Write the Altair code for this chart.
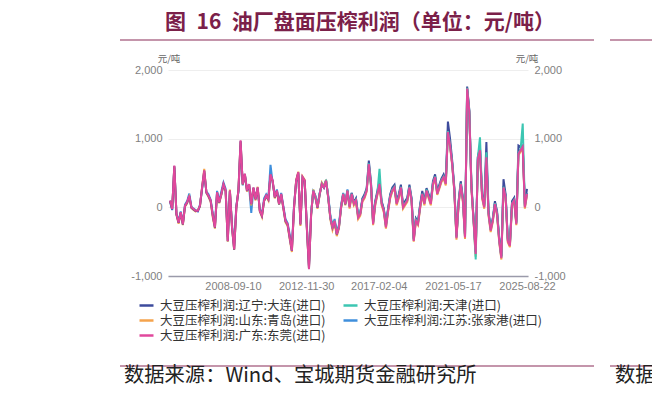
import altair as alt
import pandas as pd

# ---------------- data ----------------
dates = pd.date_range(end="2025-08-22", periods=168, freq="45D").strftime("%Y-%m-%d").tolist()

name_dalian = "大豆压榨利润:辽宁:大连(进口)"
name_tianjin = "大豆压榨利润:天津(进口)"
name_shandong = "大豆压榨利润:山东:青岛(进口)"
name_jiangsu = "大豆压榨利润:江苏:张家港(进口)"
name_guangdong = "大豆压榨利润:广东:东莞(进口)"

# legend is filled column by column: left column first, then right column
legend_order = [name_dalian, name_shandong, name_guangdong, name_tianjin, name_jiangsu]
legend_colors = ["#3d4b9c", "#f5a34c", "#e0489c", "#3cc6b2", "#3f8fdc"]

guangdong = [100, -25, 610, -100, -220, -70, -245, 25, 75, 170,
             0, -25, -50, -50, 25, 290, 540, 220, 170, 100,
             -120, -290, 220, 75, 195, 340, 245, -490, 245, -290,
             -610, 0, 245, 975, 340, 490, 245, 340, 50, 290,
             120, 290, -50, -120, 100, 170, 120, 480, 390, 150,
             245, 50, 195, 0, -195, -245, -440, -630, 0, 390,
             510, -245, 440, 390, -290, -900, -100, 245, 150, 0,
             195, 340, 290, 390, 150, -150, -290, -195, -390, -290,
             0, 195, 50, 245, 0, 195, 50, 100, -150, -100,
             100, 150, 245, 630, 340, -245, 50, 195, 340, 50,
             -50, -290, -50, 150, 245, 290, 50, 150, 290, 0,
             50, 100, 290, 100, -490, -195, -245, 0, 195, 50,
             245, 150, 50, 340, 440, 195, 290, 390, 440, 340,
             1100, 900, 630, 245, -450, 50, 340, 100, -440, 1730,
             1400, 290, -195, -680, 700, 830, 150, 0, 730, -100,
             -340, -195, 50, -100, -490, -740, 290, 150, -490, -560,
             50, 100, -245, 780, 830, 880, 0, 195]

jiangsu = [80, -40, 580, -90, -200, -60, -230, 40, 90, 200,
           10, -20, -40, -60, 40, 270, 500, 230, 190, 110,
           -90, -260, 240, 90, 230, 360, 270, -430, 230, -250,
           -560, 20, 230, 900, 320, 470, 260, 300, -80, 270,
           140, 270, -30, -100, 130, 190, 140, 620, 360, 170,
           260, 70, 210, 20, -170, -230, -400, -590, 30, 370,
           480, -210, 420, 370, -260, -850, -80, 230, 170, 30,
           210, 320, 300, 370, 170, -120, -260, -170, -350, -260,
           30, 210, 70, 260, 30, 210, 70, 120, -130, -80,
           120, 170, 260, 600, 320, -220, 70, 210, 320, 70,
           -30, -260, -30, 170, 260, 300, 70, 170, 300, 20,
           70, 120, 300, 120, -450, -170, -220, 20, 210, 70,
           260, 170, 70, 350, 450, 210, 300, 400, 450, 350,
           1120, 920, 640, 260, -430, 70, 350, 120, -420, 1700,
           1380, 300, -180, -660, 720, 850, 170, 20, 750, -80,
           -320, -180, 70, -80, -470, -720, 310, 170, -470, -540,
           70, 120, -230, 790, 850, 890, 20, 210]

shandong = [90, -10, 590, -110, -240, -80, -260, 10, 60, 150,
            -10, -40, -60, -40, 10, 300, 560, 210, 150, 80,
            -150, -310, 200, 60, 180, 320, 230, -500, 260, -300,
            -620, -20, 260, 950, 330, 480, 230, 330, 30, 280,
            100, 300, -60, -140, 90, 160, 100, 470, 380, 130,
            230, 40, 180, -20, -220, -270, -470, -650, -20, 400,
            520, -270, 450, 400, -310, -880, -120, 260, 140, -20,
            180, 360, 310, 400, 130, -180, -330, -230, -420, -310,
            -20, 180, 30, 230, -20, 180, 30, 80, -170, -120,
            80, 130, 230, 610, 320, -260, 30, 180, 320, 30,
            -70, -310, -70, 130, 230, 270, 30, 130, 270, -20,
            30, 80, 270, 80, -500, -210, -260, -20, 180, 30,
            230, 130, 30, 320, 420, 180, 270, 370, 420, 320,
            1080, 880, 610, 230, -470, 30, 320, 80, -460, 1720,
            1380, 270, -210, -720, 680, 810, 130, -20, 710, -120,
            -360, -210, 30, -120, -510, -760, 270, 130, -510, -580,
            30, 80, -260, 760, 810, 860, -20, 180]

dalian = [95, -30, 600, -105, -225, -75, -250, 20, 70, 165,
          -5, -30, -55, -55, 20, 285, 530, 215, 165, 95,
          -125, -295, 215, 70, 190, 335, 240, -495, 240, -295,
          -615, -5, 240, 965, 335, 485, 240, 335, 45, 285,
          115, 285, -55, -125, 95, 165, 115, 475, 385, 145,
          240, 45, 190, -5, -200, -250, -445, -635, -5, 385,
          505, -250, 435, 385, -295, -890, -105, 240, 145, -5,
          190, 335, 285, 385, 145, -155, -295, -200, -395, -295,
          -5, 190, 45, 240, 20, 210, 70, 130, -120, -80,
          130, 190, 280, 680, 370, -210, 90, 240, 380, 90,
          -20, -250, -20, 190, 290, 330, 80, 190, 330, 40,
          90, 140, 330, 130, -460, -160, -210, 40, 240, 90,
          280, 190, 90, 380, 480, 230, 330, 420, 480, 380,
          1250, 1000, 680, 290, -420, 90, 380, 140, -400, 1760,
          1420, 330, -160, -650, 740, 870, 190, 40, 950, -60,
          -300, -160, 90, -60, -450, -710, 410, 190, -450, -520,
          90, 140, -210, 900, 880, 900, 40, 270]

tianjin_start = 66
tianjin = [-90, 250, 160, 10,
           200, 350, 300, 400, 160, -140, -280, -190, -380, -280,
           10, 200, 60, 250, 10, 200, 60, 110, -140, -90,
           110, 160, 260, 640, 350, -230, 60, 210, 560, 60,
           -40, -280, -40, 160, 260, 300, 60, 160, 300, 10,
           60, 110, 300, 110, -480, -180, -230, 10, 200, 60,
           260, 160, 60, 350, 450, 200, 300, 400, 450, 350,
           1110, 910, 640, 250, -440, 60, 350, 110, -430, 1740,
           1410, 300, -180, -760, 720, 1020, 160, 10, 800, -90,
           -330, -180, 60, -90, -480, -730, 300, 160, -480, -550,
           60, 110, -230, 790, 840, 1220, 10, 200]

title_text = "图\u200216\u2002油厂盘面压榨利润（单位：元/吨）"
source_text = "数据来源：Wind、宝城期货金融研究所"
unit_text = "元/吨"
x_tick_dates = [(2008, 9, 10), (2012, 11, 30), (2017, 2, 4), (2021, 5, 17), (2025, 8, 22)]
y_ticks = [-1000, 0, 1000, 2000]

# ---------------- chart ----------------
CJK = "Noto Sans CJK SC"
LAT = "Liberation Sans"

xscale = alt.Scale(type="utc",
                   domain=[alt.DateTime(year=2004, month=12, date=12, utc=True),
                           alt.DateTime(year=2025, month=9, date=12, utc=True)])
xaxis = alt.Axis(values=[alt.DateTime(year=a, month=b, date=c, utc=True) for a, b, c in x_tick_dates],
                 labelExpr="utcFormat(datum.value, '%Y-%m-%d')",
                 domainColor="#9a9aaa", domainWidth=1.6, ticks=False, grid=False,
                 labelColor="#7f7f7f", labelFontSize=11, labelFont=LAT, labelPadding=4,
                 labelFlush=False, labelOverlap=False, title=None)
yscale = alt.Scale(domain=[-1000, 2000], nice=False, zero=False)
ylab = "datum.value < 0 ? '-' + format(-datum.value, ',') : format(datum.value, ',')"
yaxis_left = alt.Axis(orient="left", values=y_ticks, labelExpr=ylab, domain=False, ticks=False,
                      grid=True, gridColor="#eeeeee", gridWidth=1, labelColor="#7f7f7f",
                      labelFontSize=11, labelFont=LAT, labelPadding=6, title=None)
yaxis_right = alt.Axis(orient="right", values=y_ticks, labelExpr=ylab, domain=False, ticks=False,
                       grid=False, labelColor="#7f7f7f", labelFontSize=11, labelFont=LAT,
                       labelPadding=6, title=None)
cscale = alt.Scale(domain=legend_order, range=legend_colors)
legend = alt.Legend(title=None, orient="none", legendX=-30, legendY=227, columns=2,
                    symbolType="stroke", symbolSize=196, symbolStrokeWidth=2.5,
                    labelFont=CJK, labelFontSize=12.5, labelColor="#333333", labelLimit=400,
                    columnPadding=12, rowPadding=-2.5, padding=0, labelOffset=5)


def series_frame(name, vals, start=0):
    return pd.DataFrame({"date": dates[start:start + len(vals)], "value": vals, "series": name})


def line(df):
    return alt.Chart(df).mark_line(strokeWidth=2).encode(
        x=alt.X("date:T", scale=xscale, axis=xaxis),
        y=alt.Y("value:Q", scale=yscale, axis=yaxis_left),
        color=alt.Color("series:N", scale=cscale, legend=legend),
    )


lines = alt.layer(
    line(series_frame(name_jiangsu, jiangsu)),
    line(series_frame(name_shandong, shandong)),
    line(series_frame(name_dalian, dalian)),
    line(series_frame(name_tianjin, tianjin, tianjin_start)),
    line(series_frame(name_guangdong, guangdong)),
)

right_axis = alt.Chart(series_frame(name_guangdong, guangdong)).mark_line(opacity=0).encode(
    x=alt.X("date:T", scale=xscale, axis=xaxis),
    y=alt.Y("value:Q", scale=yscale, axis=yaxis_right),
)


def text(t, x, y, size, color, font=CJK, weight="normal", align="left"):
    return alt.Chart(pd.DataFrame({"t": [t]})).mark_text(
        align=align, baseline="middle", fontSize=size, font=font, fontWeight=weight, color=color
    ).encode(x=alt.value(x), y=alt.value(y), text="t:N")


def hrule(x1, x2, y, color, w):
    return alt.Chart(pd.DataFrame({"a": [0]})).mark_rule(color=color, strokeWidth=w).encode(
        x=alt.value(x1), x2=alt.value(x2), y=alt.value(y))


maroon = "#7b2049"
line_col = "#b0728f"

chart = alt.layer(
    lines,
    right_axis,
    text(unit_text, 1, -11, 9.5, "#666666", align="center"),
    text(unit_text, 359, -11, 9.5, "#666666", align="center"),
    text(title_text, -3, -47, 21, maroon, weight="bold"),
    hrule(-48, 426, -30, line_col, 1.5),
    hrule(442, 500, -30, line_col, 1.5),
    hrule(-48, 426, 296, line_col, 1.5),
    hrule(442, 500, 296, line_col, 1.5),
    text(source_text, -44, 306, 20.3, "#222222"),
    text(source_text, 447, 306, 20.3, "#222222"),
).resolve_scale(y="independent").properties(
    width=360, height=206,
    padding={"left": 160, "top": 62, "right": 124, "bottom": 118},
    autosize=alt.AutoSizeParams(type="none"),
    background="white",
).configure_view(stroke=None)

chart.save("out.html", embed_options={"renderer": "svg", "actions": False})
